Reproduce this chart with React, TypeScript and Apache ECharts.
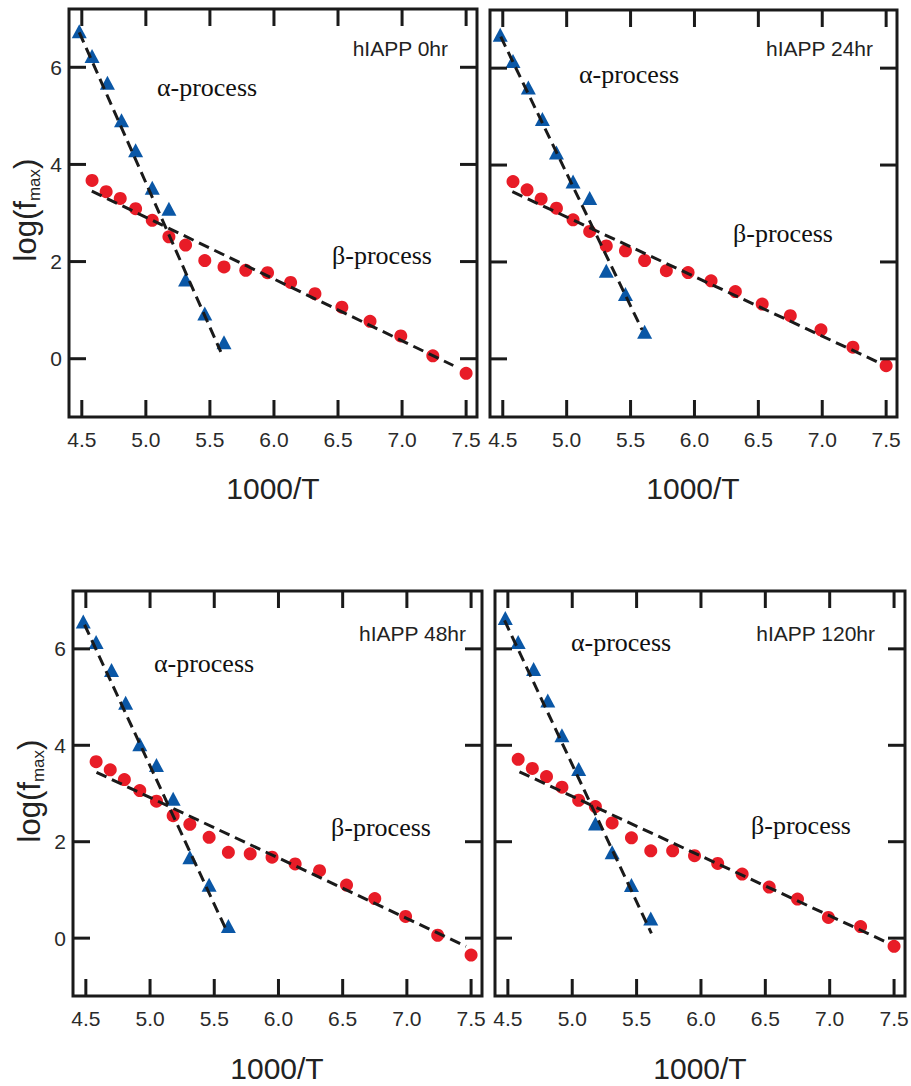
import React, { useEffect, useRef } from "react";
import * as echarts from "echarts";

// ---- Data ----
const ALPHA_X = [4.48, 4.58, 4.70, 4.81, 4.92, 5.05, 5.18, 5.31, 5.46, 5.61];
const BETA_X = [4.58, 4.69, 4.80, 4.92, 5.05, 5.18, 5.31, 5.46, 5.61, 5.78, 5.95, 6.13, 6.32, 6.53, 6.75, 6.99, 7.24, 7.50];

const X_TICKS = [4.5, 5.0, 5.5, 6.0, 6.5, 7.0, 7.5];
const Y_TICKS = [0, 2, 4, 6];

const PANEL_LABELS = ["hIAPP 0hr", "hIAPP 24hr", "hIAPP 48hr", "hIAPP 120hr"];

const alpha0 = [6.74, 6.23, 5.68, 4.91, 4.29, 3.52, 3.09, 1.63, 0.93, 0.34];
const beta0 = [3.67, 3.44, 3.30, 3.09, 2.85, 2.51, 2.34, 2.02, 1.89, 1.82, 1.77, 1.57, 1.34, 1.06, 0.77, 0.47, 0.06, -0.30];
const alpha24 = [6.69, 6.15, 5.60, 4.95, 4.26, 3.66, 3.32, 1.82, 1.34, 0.56];
const beta24 = [3.66, 3.49, 3.30, 3.11, 2.87, 2.63, 2.33, 2.23, 2.03, 1.82, 1.78, 1.61, 1.39, 1.13, 0.89, 0.60, 0.24, -0.14];
const alpha48 = [6.57, 6.14, 5.56, 4.88, 4.02, 3.59, 2.89, 1.68, 1.11, 0.25];
const beta48 = [3.66, 3.49, 3.29, 3.06, 2.84, 2.54, 2.36, 2.09, 1.78, 1.75, 1.68, 1.54, 1.40, 1.10, 0.82, 0.45, 0.06, -0.35];
const alpha120 = [6.64, 6.14, 5.58, 4.93, 4.21, 3.51, 2.38, 1.78, 1.10, 0.41];
const beta120 = [3.71, 3.52, 3.35, 3.13, 2.86, 2.73, 2.39, 2.08, 1.81, 1.81, 1.71, 1.55, 1.33, 1.06, 0.81, 0.43, 0.24, -0.17];

// Fitted dashed lines (endpoints)
const alphaFit0 = [[4.48, 6.72], [5.585, 0.14]];
const betaFit0 = [[4.578, 3.45], [7.40, -0.14]];
const alphaFit24 = [[4.484, 6.65], [5.59, 0.60]];
const betaFit24 = [[4.575, 3.45], [7.43, -0.06]];
const alphaFit48 = [[4.49, 6.50], [5.60, 0.13]];
const betaFit48 = [[4.583, 3.44], [7.46, -0.17]];
const alphaFit120 = [[4.474, 6.59], [5.615, 0.10]];
const betaFit120 = [[4.59, 3.45], [7.455, -0.10]];

const ALPHA_Y = [alpha0, alpha24, alpha48, alpha120];
const BETA_Y = [beta0, beta24, beta48, beta120];
const ALPHA_FIT = [alphaFit0, alphaFit24, alphaFit48, alphaFit120];
const BETA_FIT = [betaFit0, betaFit24, betaFit48, betaFit120];

// ---- Layout ----
const GRIDS = [
  { left: 69, top: 9, width: 408, height: 408 },
  { left: 490, top: 10, width: 407, height: 407 },
  { left: 73, top: 591, width: 409, height: 405 },
  { left: 495, top: 591, width: 410, height: 405 },
];
const X_MIN = 4.4, X_MAX = 7.585, Y_MIN = -1.2, Y_MAX = 7.2;

const AXIS_COLOR = "#1a1a1a";
const LABEL_COLOR = "#2a2a2a";
const SANS = "'Liberation Sans', Arial, sans-serif";
const SERIF = "'Liberation Serif', 'Times New Roman', serif";
const TICK_LEN = 17;
const TICK_W = 3;

function zip(xs: number[], ys: number[]) {
  return xs.map((x, i) => [x, ys[i]]);
}

export default function App() {
  const ref = useRef<HTMLDivElement>(null);
  useEffect(() => {
    if (!ref.current) return;
    const chart = echarts.init(ref.current, null, { renderer: "svg" });
    const xAxis: any[] = [];
    const yAxis: any[] = [];
    const series: any[] = [];
    const frameStyle = { stroke: AXIS_COLOR, lineWidth: 3, fill: "none" };
    GRIDS.forEach((_, gi) => {
      const showY = gi === 0 || gi === 2;
      xAxis.push({ type: "value", gridIndex: gi, min: X_MIN, max: X_MAX, show: false, splitLine: { show: false } });
      yAxis.push({ type: "value", gridIndex: gi, min: Y_MIN, max: Y_MAX, show: false, splitLine: { show: false } });

      // x ticks (bottom + top, inside) and labels
      series.push({
        type: "custom", xAxisIndex: gi, yAxisIndex: gi, clip: false, silent: true, z: 5,
        data: X_TICKS.map((v) => [v, 0]),
        renderItem: (params: any, api: any) => {
          const cs = params.coordSys;
          const x = api.coord([api.value(0), 0])[0];
          const yb = cs.y + cs.height;
          return {
            type: "group",
            children: [
              { type: "rect", shape: { x: x - TICK_W / 2, y: yb - TICK_LEN, width: TICK_W, height: TICK_LEN }, style: { fill: AXIS_COLOR } },
              { type: "rect", shape: { x: x - TICK_W / 2, y: cs.y, width: TICK_W, height: TICK_LEN }, style: { fill: AXIS_COLOR } },
              { type: "text", x, y: yb + 12,
                style: { text: Number(api.value(0)).toFixed(1), fontSize: 21, fontFamily: SANS,
                  fill: LABEL_COLOR, align: "center", verticalAlign: "top" } },
            ],
          };
        },
      });
      // y ticks (left + right, inside) and labels
      series.push({
        type: "custom", xAxisIndex: gi, yAxisIndex: gi, clip: false, silent: true, z: 5,
        data: Y_TICKS.map((v) => [X_MIN, v]),
        renderItem: (params: any, api: any) => {
          const cs = params.coordSys;
          const y = api.coord([X_MIN, api.value(1)])[1];
          const xr = cs.x + cs.width;
          const children: any[] = [
            { type: "rect", shape: { x: cs.x, y: y - TICK_W / 2, width: TICK_LEN, height: TICK_W }, style: { fill: AXIS_COLOR } },
            { type: "rect", shape: { x: xr - TICK_LEN, y: y - TICK_W / 2, width: TICK_LEN, height: TICK_W }, style: { fill: AXIS_COLOR } },
          ];
          if (showY) {
            children.push({ type: "text", x: cs.x - 7, y,
              style: { text: String(api.value(1)), fontSize: 21, fontFamily: SANS,
                fill: LABEL_COLOR, align: "right", verticalAlign: "middle" } });
          }
          return { type: "group", children };
        },
      });

      series.push({
        type: "scatter", xAxisIndex: gi, yAxisIndex: gi,
        data: zip(ALPHA_X, ALPHA_Y[gi]), symbol: "triangle", symbolSize: [15, 14],
        itemStyle: { color: "#0a57a6", opacity: 1 },
      });
      series.push({
        type: "scatter", xAxisIndex: gi, yAxisIndex: gi,
        data: zip(BETA_X, BETA_Y[gi]), symbol: "circle", symbolSize: 13,
        itemStyle: { color: "#e81c27", opacity: 1 },
      });
      [ALPHA_FIT[gi], BETA_FIT[gi]].forEach((fit) => {
        series.push({
          type: "line", xAxisIndex: gi, yAxisIndex: gi, data: fit,
          symbol: "none", showSymbol: false,
          lineStyle: { color: "#1a1a1a", width: 3, type: [11, 6] },
        });
      });
    });

    const txt = (x: number, y: number, text: string, extra: any = {}) => ({
      type: "text", x, y,
      style: { text, fill: "#111", font: `26px ${SERIF}`, align: "center", verticalAlign: "middle", ...extra },
    });
    const rich = {
      a: { fontSize: 31, fontFamily: SANS, lineHeight: 36, fill: "#222", color: "#222" },
      b: { fontSize: 17, fontFamily: SANS, lineHeight: 18, verticalAlign: "bottom", fill: "#222", color: "#222" },
    };
    const graphic: any[] = [
      // panel frames
      ...GRIDS.map((g) => ({ type: "rect", shape: { x: g.left, y: g.top, width: g.width, height: g.height },
        style: frameStyle, z: 10, silent: true })),
      txt(207, 87, "α-process"), txt(382, 255, "β-process"),
      txt(629, 74, "α-process"), txt(783, 233, "β-process"),
      txt(204, 663, "α-process"), txt(381, 827, "β-process"),
      txt(621, 642, "α-process"), txt(801, 825, "β-process"),
      txt(448, 48, PANEL_LABELS[0], { font: `21px ${SANS}`, align: "right", fill: "#222" }),
      txt(873, 48, PANEL_LABELS[1], { font: `21px ${SANS}`, align: "right", fill: "#222" }),
      txt(466, 633, PANEL_LABELS[2], { font: `21px ${SANS}`, align: "right", fill: "#222" }),
      txt(875, 633, PANEL_LABELS[3], { font: `21px ${SANS}`, align: "right", fill: "#222" }),
      txt(273, 488, "1000/T", { font: `30px ${SANS}`, fill: "#222" }),
      txt(693, 488, "1000/T", { font: `30px ${SANS}`, fill: "#222" }),
      txt(277, 1068, "1000/T", { font: `30px ${SANS}`, fill: "#222" }),
      txt(700, 1068, "1000/T", { font: `30px ${SANS}`, fill: "#222" }),
      { type: "text", x: 25, y: 210, rotation: Math.PI / 2,
        style: { text: "{a|log(f}{b|max}{a|)}", rich, align: "center", verticalAlign: "middle" } },
      { type: "text", x: 29, y: 791, rotation: Math.PI / 2,
        style: { text: "{a|log(f}{b|max}{a|)}", rich, align: "center", verticalAlign: "middle" } },
    ];

    chart.setOption({
      animation: false,
      backgroundColor: "#fff",
      grid: GRIDS.map((g) => ({ ...g, containLabel: false, show: false })),
      xAxis, yAxis, series, graphic,
    });
    return () => chart.dispose();
  }, []);
  return (
    <div ref={ref} style={{ position: "absolute", left: 0, top: 0, width: 911, height: 1086, background: "#fff" }} />
  );
}
